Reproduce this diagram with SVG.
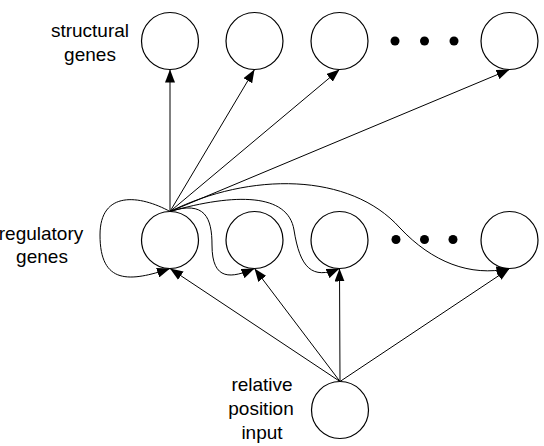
<svg xmlns="http://www.w3.org/2000/svg" width="544" height="446" viewBox="0 0 544 446">
<style>
.n{fill:none;stroke:#000;stroke-width:1.2}
.e{fill:none;stroke:#000;stroke-width:1}
.t{font-family:"Liberation Sans",Arial,sans-serif;font-size:19px;fill:#000;text-anchor:middle}
.d{fill:#000}
</style>
<defs>
<marker id="a" markerUnits="userSpaceOnUse" markerWidth="14" markerHeight="10" refX="13" refY="5" orient="auto">
<path d="M0,0 L13,5 L0,10 Z" fill="#000"/>
</marker>
</defs>
<rect width="544" height="446" fill="#fff"/>
<g id="labels">
<text class="t" x="90" y="37">structural</text>
<text class="t" x="90" y="61">genes</text>
<text class="t" x="41" y="240">regulatory</text>
<text class="t" x="42" y="263">genes</text>
<text class="t" x="262" y="391">relative</text>
<text class="t" x="261" y="415">position</text>
<text class="t" x="262" y="439">input</text>
</g>
<g id="s1"><circle class="n" cx="170" cy="41" r="28.5"/></g>
<g id="s2"><circle class="n" cx="254.5" cy="41" r="28.5"/></g>
<g id="s3"><circle class="n" cx="339.5" cy="41" r="28.5"/></g>
<g id="s4"><circle class="n" cx="509.5" cy="41" r="28.5"/></g>
<g id="sdots"><circle class="d" cx="395" cy="41" r="4.5"/><circle class="d" cx="424.5" cy="41" r="4.5"/><circle class="d" cx="454" cy="41" r="4.5"/></g>
<g id="r1"><circle class="n" cx="170" cy="240" r="28.5"/></g>
<g id="r2"><circle class="n" cx="254.5" cy="240" r="28.5"/></g>
<g id="r3"><circle class="n" cx="339.5" cy="240" r="28.5"/></g>
<g id="r4"><circle class="n" cx="509.5" cy="240" r="28.5"/></g>
<g id="rdots"><circle class="d" cx="396" cy="239.5" r="4.5"/><circle class="d" cx="424.5" cy="239.5" r="4.5"/><circle class="d" cx="453" cy="239.5" r="4.5"/></g>
<g id="input"><circle class="n" cx="340" cy="410" r="28.5"/></g>
<g id="connectors" class="e" marker-end="url(#a)">
<path d="M170,211.5 L170,69.5"/>
<path d="M170,211.5 L254.5,69.5"/>
<path d="M170,211.5 L339.5,69.5"/>
<path d="M170,211.5 L509.5,69.5"/>
<path d="M170,211.5 C140,195 100,190 100,235 C100,285 130,282 170,268.5"/>
<path d="M170,211.5 C205,200 212,218 212,245 C212,282 232,278 254.5,268.5"/>
<path d="M170,211.5 C235,193 288,193 294,230 C300,268 312,280 339.5,268.5"/>
<path d="M170,211.5 C250,172 350,172 400,228 C432,262 470,277 509.5,268.5"/>
<path d="M340,381.5 L170,268.5"/>
<path d="M340,381.5 L254.5,268.5"/>
<path d="M340,381.5 L339.5,268.5"/>
<path d="M340,381.5 L509.5,268.5"/>
</g>
</svg>
